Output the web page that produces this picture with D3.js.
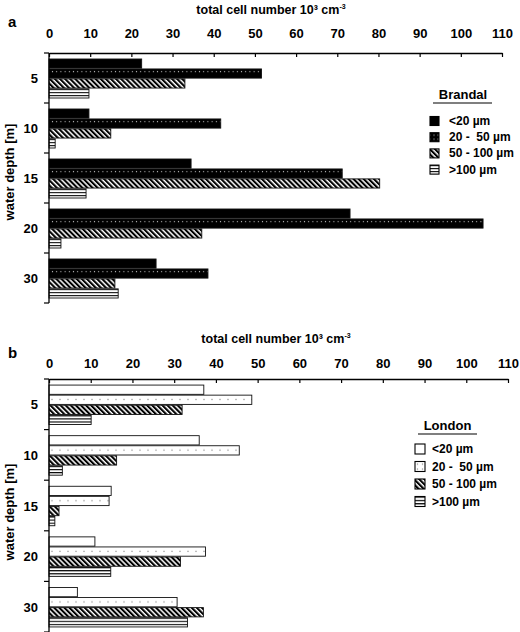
<!DOCTYPE html>
<html><head><meta charset="utf-8">
<script src="https://cdn.jsdelivr.net/npm/d3@7"></script>
<style>
body{margin:0;background:#fff}
svg{display:block;font-family:"Liberation Sans",Arial,Helvetica,sans-serif;font-weight:bold}
text{white-space:pre}
</style>
</head><body>
<svg id="chart" width="520" height="632"></svg>
<script>
// ---------- data ----------
const depths = ["5", "10", "15", "20", "30"];
const sizeClasses = ["<20 µm", "20 -  50 µm", "50 - 100 µm", ">100 µm"];
const xTicks = [0, 10, 20, 30, 40, 50, 60, 70, 80, 90, 100, 110];

const brandalLt20   = [22.5, 9.7, 34.5, 73.1, 26.0];
const brandal20to50 = [51.6, 41.7, 71.2, 105.4, 38.6];
const brandal50to100= [33.0, 15.0, 80.3, 37.1, 16.0];
const brandalGt100  = [9.7, 1.5, 9.0, 2.9, 16.8];

const londonLt20    = [37.1, 36.0, 14.9, 11.0, 6.8];
const london20to50  = [48.6, 45.6, 14.4, 37.5, 30.7];
const london50to100 = [31.9, 16.2, 2.4, 31.5, 37.0];
const londonGt100   = [10.1, 3.2, 1.4, 14.8, 33.2];

// ---------- setup ----------
const svg = d3.select("#chart");
const defs = svg.append("defs");

// dotted pattern aligned to the band grid so every dotted bar gets its row of dots
function dotPattern(id, bg, dot, dx, y, h, dotY, size) {
  const p = defs.append("pattern").attr("id", id).attr("patternUnits", "userSpaceOnUse")
    .attr("x", 0).attr("y", y).attr("width", dx).attr("height", h);
  p.append("rect").attr("width", dx).attr("height", h).attr("fill", bg);
  dotY.forEach(dy => p.append("rect").attr("x", dx / 2 - size / 2).attr("y", dy)
    .attr("width", size).attr("height", size).attr("fill", dot));
}
// legend swatch patterns
dotPattern("dotBlackLeg", "#000", "#ddd", 4, 0, 4, [1.5], 1);
dotPattern("dotGreyLeg", "#fff", "#888", 5, 0, 5, [2], 1.2);

// pattern: diagonal hatch "\"
let p = defs.append("pattern").attr("id","hatch").attr("patternUnits","userSpaceOnUse")
  .attr("width",3.6).attr("height",3.6).attr("patternTransform","rotate(-45)");
p.append("rect").attr("width",3.6).attr("height",3.6).attr("fill","#fff");
p.append("rect").attr("width",2.1).attr("height",3.6).attr("fill","#000");

// pattern: horizontal lines
p = defs.append("pattern").attr("id","hlines").attr("patternUnits","objectBoundingBox")
  .attr("patternContentUnits","objectBoundingBox").attr("width",1).attr("height",1/3);
p.append("rect").attr("width",1).attr("height",1/3).attr("fill","#fff");
p.append("rect").attr("width",1).attr("height",0.12).attr("fill","#000");

const panels = [
  {
    letter: "a", name: "Brandal",
    series: [brandalLt20, brandal20to50, brandal50to100, brandalGt100],
    dot: {id: "dotA", bg: "#000", c: "#ddd", dx: 4.2, rows: [2.2], size: 1},
    fills: ["#000", "url(#dotA)", "url(#hatch)", "url(#hlines)"],
    legFills: ["#000", "url(#dotBlackLeg)", "url(#hatch)", "url(#hlines)"],
    axisY: 53, bottom: 303, xRight: 502, tickPad: 15,
    titleX: 271, titleY: 14, letterY: 27, ylabCenter: 172,
    leg: {sx: 430, size: 9, y0: 121, dy: 16.2, tx: 449, titleX: 463, titleY: 99, ulY: 103, ul: [433, 492]}
  },
  {
    letter: "b", name: "London",
    series: [londonLt20, london20to50, london50to100, londonGt100],
    dot: {id: "dotB", bg: "#fff", c: "#888", dx: 8, rows: [3.8], size: 1.2},
    fills: ["#fff", "url(#dotB)", "url(#hatch)", "url(#hlines)"],
    legFills: ["#fff", "url(#dotGreyLeg)", "url(#hatch)", "url(#hlines)"],
    axisY: 379, bottom: 632, xRight: 508, tickPad: 11,
    titleX: 276, titleY: 343, letterY: 358, ylabCenter: 512,
    leg: {sx: 415, size: 10, y0: 449, dy: 17.5, tx: 432, titleX: 447.5, titleY: 430, ulY: 434, ul: [418, 477]}
  }
];

panels.forEach(P => {
  const g = svg.append("g");
  const x = d3.scaleLinear().domain([0, 110]).range([49, P.xRight]);
  const y0 = d3.scaleBand().domain(depths).range([P.axisY, P.bottom]);
  const bw = y0.bandwidth();
  const y1 = d3.scaleBand().domain(d3.range(4)).range([bw * 0.12, bw * 0.9]).paddingInner(0.08);

  const D = P.dot;
  dotPattern(D.id, D.bg, D.c, D.dx, P.axisY + y1(1), bw, D.rows, D.size);

  // bars
  P.series.forEach((vals, si) => {
    g.append("g").selectAll("rect").data(vals).join("rect")
      .attr("x", x(0))
      .attr("y", (d, i) => y0(depths[i]) + y1(si))
      .attr("width", d => x(d) - x(0))
      .attr("height", y1.bandwidth())
      .attr("fill", P.fills[si])
      .attr("stroke", "#111").attr("stroke-width", 0.9);
  });

  // top x axis
  const ax = g.append("g").attr("transform", `translate(0,${P.axisY})`)
    .call(d3.axisTop(x).tickValues(xTicks).tickSize(-4).tickSizeOuter(0).tickPadding(P.tickPad));
  ax.select(".domain").attr("stroke", "#000").attr("stroke-width", 1.3);
  ax.selectAll(".tick line").attr("stroke", "#000").attr("stroke-width", 1.2);
  ax.selectAll(".tick text").attr("font-size", 13).attr("font-weight", "bold")
    .attr("font-family", "Liberation Sans, Arial, sans-serif").attr("fill", "#000");

  // left y axis (band boundaries)
  const bounds = depths.map(d => y0(d)).concat([y0.range()[1]]);
  g.append("line").attr("x1", 49).attr("x2", 49).attr("y1", P.axisY).attr("y2", P.bottom)
    .attr("stroke", "#000").attr("stroke-width", 1.3);
  g.append("g").selectAll("line").data(bounds).join("line")
    .attr("x1", 44).attr("x2", 49).attr("y1", d => d).attr("y2", d => d)
    .attr("stroke", "#000").attr("stroke-width", 1.2);
  g.append("g").selectAll("text").data(depths).join("text")
    .attr("x", 38).attr("y", d => y0(d) + bw / 2 + 5)
    .attr("text-anchor", "end").attr("font-size", 13).text(d => d);

  // axis titles
  const t = g.append("text").attr("x", P.titleX).attr("y", P.titleY)
    .attr("text-anchor", "middle").attr("font-size", 12.5);
  t.append("tspan").text("total cell number 10³ cm");
  t.append("tspan").attr("font-size", 7).attr("dy", -5).text("-3");

  g.append("text").attr("transform", `translate(14,${P.ylabCenter}) rotate(-90)`)
    .attr("text-anchor", "middle").attr("font-size", 13).text("water depth [m]");

  g.append("text").attr("x", 8).attr("y", P.letterY).attr("font-size", 15).text(P.letter);

  // legend
  const L = P.leg;
  g.append("text").attr("x", L.titleX).attr("y", L.titleY).attr("text-anchor", "middle")
    .attr("font-size", 13).text(P.name);
  g.append("line").attr("x1", L.ul[0]).attr("x2", L.ul[1]).attr("y1", L.ulY).attr("y2", L.ulY)
    .attr("stroke", "#000").attr("stroke-width", 1.2);
  const li = g.append("g").selectAll("g").data(sizeClasses).join("g")
    .attr("transform", (d, i) => `translate(0,${L.y0 + i * L.dy})`);
  li.append("rect").attr("x", L.sx).attr("y", -L.size / 2).attr("width", L.size).attr("height", L.size)
    .attr("fill", (d, i) => P.legFills[i]).attr("stroke", "#000").attr("stroke-width", 1.1);
  li.append("text").attr("x", L.tx).attr("y", 4).attr("font-size", 12).text(d => d);
});
</script>
</body></html>
